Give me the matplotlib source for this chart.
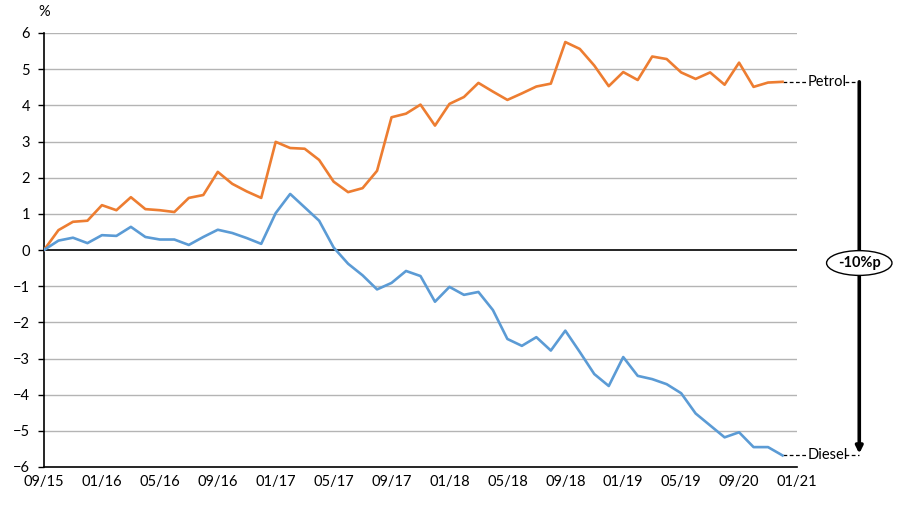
import matplotlib
matplotlib.use("Agg")
import matplotlib.pyplot as plt

plt.rcParams['font.family'] = ['Lato', 'DejaVu Sans']

# tick labels every 4 points along the category axis
tick_labels = ['09/15', '01/16', '05/16', '09/16', '01/17', '05/17', '09/17',
               '01/18', '05/18', '09/18', '01/19', '05/19', '09/20', '01/21']

petrol = [0.0, 0.55, 0.78, 0.81, 1.24, 1.10, 1.46, 1.13, 1.10, 1.05,
          1.44, 1.52, 2.16, 1.83, 1.62, 1.44, 2.99, 2.82, 2.80, 2.49,
          1.89, 1.60, 1.71, 2.19, 3.67, 3.77, 4.02, 3.44, 4.04, 4.23,
          4.62, 4.38, 4.15, 4.33, 4.52, 4.60, 5.75, 5.56, 5.10, 4.53,
          4.92, 4.70, 5.35, 5.28, 4.91, 4.73, 4.91, 4.57, 5.18, 4.51,
          4.63, 4.65]

diesel = [0.0, 0.26, 0.34, 0.19, 0.41, 0.39, 0.64, 0.36, 0.29, 0.29,
          0.14, 0.36, 0.56, 0.47, 0.33, 0.17, 1.02, 1.55, 1.18, 0.81,
          0.07, -0.38, -0.70, -1.09, -0.91, -0.58, -0.72, -1.43, -1.02, -1.24,
          -1.16, -1.66, -2.46, -2.65, -2.41, -2.78, -2.23, -2.82, -3.43, -3.76,
          -2.96, -3.48, -3.57, -3.71, -3.96, -4.52, -4.85, -5.18, -5.04, -5.45,
          -5.45, -5.68]

gap_label = '-10%p'

fig = plt.figure(figsize=(9.09, 5.08), dpi=100)
ax = fig.add_axes([44/909, 1-467/508, (797-44)/909, (467-33)/508])

x = list(range(len(petrol)))
ax.plot(x, petrol, color='#ED7D31', lw=1.9, solid_joinstyle='round', zorder=3)
ax.plot(x, diesel, color='#5B9BD5', lw=1.9, solid_joinstyle='round', zorder=3)

ax.set_xlim(0, 52)
ax.set_ylim(-6, 6)
ax.set_yticks(range(-6, 7))
ax.set_xticks(range(0, 53, 4))
ax.set_xticklabels(tick_labels)
ax.tick_params(axis='x', length=0, pad=6, labelsize=10.5)
ax.tick_params(axis='y', length=4, width=1, direction='out', pad=6, labelsize=10.5)

for v in range(-5, 7):
    if v != 0:
        ax.axhline(v, color='#b4b4b4', lw=1, zorder=1)
ax.axhline(0, color='black', lw=1.2, zorder=2)

for s in ['top', 'right']:
    ax.spines[s].set_visible(False)
ax.spines['left'].set_linewidth(1.2)
ax.spines['bottom'].set_linewidth(1.2)

ax.text(-0.4, 6.58, '%', fontsize=10.5, ha='left', va='center', clip_on=False)

# end labels with dashed leaders
arrow_x = 56.3
for val, name in [(petrol[-1], 'Petrol'), (diesel[-1], 'Diesel')]:
    ax.plot([51, 52.6], [val, val], color='black', lw=0.9, ls=(0, (3, 2)), clip_on=False)
    ax.text(52.7, val, name, fontsize=10.5, ha='left', va='center', clip_on=False)
    ax.plot([55.3, arrow_x], [val, val], color='black', lw=0.9, ls=(0, (3, 2)), clip_on=False)

ax.annotate('', xy=(arrow_x, diesel[-1] + 0.05), xytext=(arrow_x, petrol[-1]),
            xycoords='data', annotation_clip=False,
            arrowprops=dict(arrowstyle='-|>', lw=2.6, color='black',
                            mutation_scale=10, shrinkA=0, shrinkB=0))
ax.text(arrow_x, -0.36, gap_label, fontsize=10.5, fontweight='bold',
        ha='center', va='center', clip_on=False, zorder=5,
        bbox=dict(boxstyle='ellipse,pad=0.12', fc='white', ec='black', lw=1))

fig.savefig('out.png', dpi=100)
